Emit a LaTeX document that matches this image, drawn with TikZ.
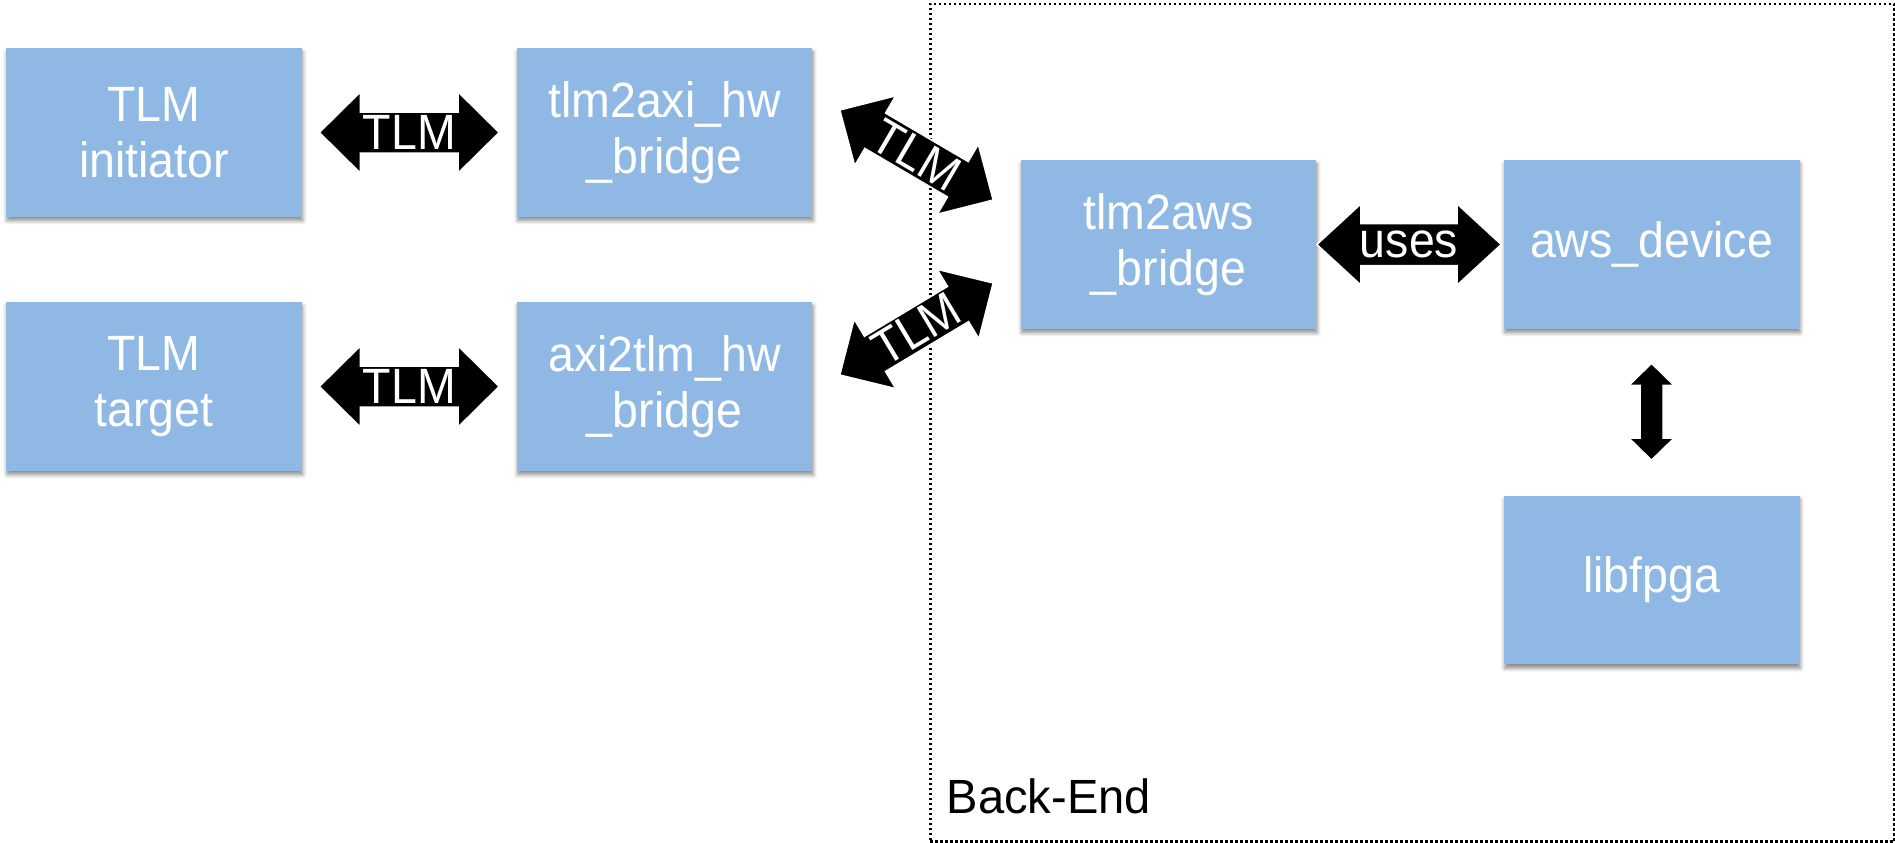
\documentclass[tikz,border=0pt]{standalone}
\usepackage{fontspec}
\usepackage{graphicx}
\setmainfont{Liberation Sans}
\usetikzlibrary{calc,shadows.blur}

\definecolor{boxblue}{RGB}{143,185,228}

% Slightly taller lettering, as in the block captions
\newcommand{\tall}[1]{\scalebox{1}[1.067]{#1}}

% Fat double-headed arrow between two tips, with an optional label along it.
% #1,#2 tips; #3 head length; #4 head half-width; #5 shaft half-width; #6 label
\newcommand{\fatarrow}[6]{%
  \coordinate (hA) at ($(#1)!#3!(#2)$);
  \coordinate (hB) at ($(#2)!#3!(#1)$);
  \filldraw[fatarrow] (#1)
    -- ($(hA)!#4!90:(#2)$) -- ($(hA)!#5!90:(#2)$)
    -- ($(hB)!#5!-90:(#1)$) -- ($(hB)!#4!-90:(#1)$)
    -- (#2)
    -- ($(hB)!#4!90:(#1)$) -- ($(hB)!#5!90:(#1)$)
    -- ($(hA)!#5!-90:(#2)$) -- ($(hA)!#4!-90:(#2)$)
    -- cycle;
  \path (#1) -- (#2) node[midway, sloped, arrowlabel] {#6};
}

\begin{document}
\begin{tikzpicture}[x=0.02cm, y=0.02cm,
  block/.style={rectangle, fill=boxblue, minimum width=5.92cm, minimum height=3.38cm,
    inner sep=0pt, text=white, align=center,
    font=\fontsize{26.46}{32}\selectfont,
    blur shadow={shadow xshift=0.5pt, shadow yshift=-2.2pt, shadow blur radius=2.2pt, shadow opacity=45}},
  fatarrow/.style={fill=black, draw=white, line width=0.03cm, line join=miter},
  arrowlabel/.style={text=white, inner sep=0pt, font=\fontsize{26.46}{32}\selectfont},
  frame/.style={draw=black, line width=0.05cm, dash pattern=on 0.05cm off 0.05cm,
    rectangle, inner sep=0pt, minimum width=19.28cm, minimum height=16.76cm},
]
\useasboundingbox (0,0) rectangle (1895,-842);

% Back-end frame
\node[frame, anchor=north west] (backend) at (929,-2.5) {};
\node[anchor=base west, inner sep=0pt, font=\fontsize{26.8}{32}\selectfont]
  (backendlabel) at (946.5,-813.7) {\scalebox{1}[1.02]{Back-End}};

% Blocks
\node[block] (init) at (154,-132.5) {\tall{TLM}\\\tall{initiator}};
\node[block] (h2a)  at (664.5,-132.5) {\tall{tlm2axi\_hw}\\\tall{\_bridge}};
\node[block] (tgt)  at (154,-386.5) {\tall{TLM}\\\tall{target}};
\node[block] (a2h)  at (664.5,-386.5) {\tall{axi2tlm\_hw}\\\tall{\_bridge}};
\node[block] (aws)  at (1168.5,-244.5) {\tall{tlm2aws}\\\tall{\_bridge}};
\node[block] (dev)  at (1651.5,-244.5) {\tall{aws\_device}};
\node[block] (fpga) at (1651.5,-580) {\tall{libfpga}};

% Arrow end points
\coordinate (p1a) at ($(init.east)+(17,0)$);
\coordinate (p1b) at ($(h2a.west)+(-17,0)$);
\coordinate (p2a) at ($(tgt.east)+(17,0)$);
\coordinate (p2b) at ($(a2h.west)+(-17,0)$);
\coordinate (p3a) at ($(h2a.east)+(27,22.5)$);
\coordinate (p3b) at ($(aws.west)+(-27,44.5)$);
\coordinate (p4a) at ($(a2h.east)+(27,11.5)$);
\coordinate (p4b) at ($(aws.west)+(-27,-38.5)$);
\coordinate (p5a) at ($(aws.east)+(0,0)$);
\coordinate (p5b) at ($(dev.west)+(-2,0)$);
\coordinate (p6a) at ($(dev.south)+(0,-34)$);
\coordinate (p6b) at ($(fpga.north)+(0,35)$);

% Connectors
\fatarrow{p1a}{p1b}{0.82cm}{0.81cm}{0.41cm}{\tall{TLM}}
\fatarrow{p2a}{p2b}{0.82cm}{0.81cm}{0.41cm}{\tall{TLM}}
\fatarrow{p3a}{p3b}{0.82cm}{0.81cm}{0.41cm}{\tall{TLM}}
\fatarrow{p4a}{p4b}{0.82cm}{0.81cm}{0.41cm}{\tall{TLM}}
\fatarrow{p5a}{p5b}{0.88cm}{0.81cm}{0.42cm}{\tall{uses}}
\fatarrow{p6a}{p6b}{0.44cm}{0.45cm}{0.23cm}{}
\end{tikzpicture}
\end{document}
